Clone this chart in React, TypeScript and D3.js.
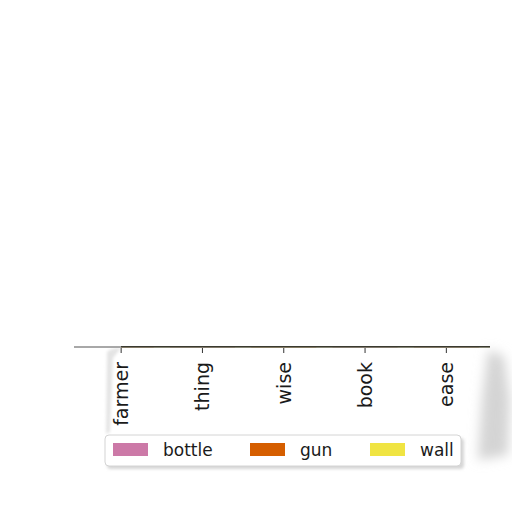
import React from 'react';
import * as d3 from 'd3';

const categories = ['farmer', 'thing', 'wise', 'book', 'ease'];
const seriesNames = ['bottle', 'gun', 'wall'];
const seriesColors = ['#cc79a7', '#d55e00', '#f0e442'];
const bottleValues = [2, 3, 1, 4, 2];
const gunValues = [3, 1, 2, 2, 3];
const wallValues = [1, 2, 3, 1, 2];

const W = 512;
const H = 512;
const plot = { left: 80.5, right: 487, top: 346, bottom: 348 };

const App: React.FC = () => {
  const rows = categories.map((c, i) => ({
    cat: c,
    bottle: bottleValues[i],
    gun: gunValues[i],
    wall: wallValues[i],
  }));
  const stacked = d3.stack<any>().keys(seriesNames)(rows);
  const maxY = d3.max(stacked[stacked.length - 1], d => d[1]) || 1;

  const x = d3.scaleBand<string>().domain(categories).range([plot.left, plot.right]).padding(0);
  const y = d3.scaleLinear().domain([0, maxY]).range([plot.bottom, plot.top]);
  const font = 'DejaVu Sans, sans-serif';

  const legendItems = [
    { x: 113, tx: 163 },
    { x: 250, tx: 300 },
    { x: 370, tx: 420 },
  ];

  return (
    <svg width={W} height={H} style={{ position: 'absolute', left: 0, top: 0 }}>
      <defs>
        <filter id="blur" x="-50%" y="-50%" width="200%" height="200%">
          <feGaussianBlur stdDeviation="6" />
        </filter>
        <filter id="blurSmall" x="-50%" y="-50%" width="200%" height="200%">
          <feGaussianBlur stdDeviation="1.5" />
        </filter>
      </defs>
      <rect width={W} height={H} fill="#fff" />

      {/* paper shadows */}
      <path d="M488,350 L504,356 L510,400 L508,455 L478,460 L482,400 Z" fill="#d4d4d4" filter="url(#blur)" />
      <path d="M107,352 Q111,348 121,348 L113,358 L110,432 L106,434 Z" fill="#e4e4e4" filter="url(#blurSmall)" />

      {/* bars (compressed to a sliver) */}
      {stacked.map((s, si) =>
        s.map((d, i) => (
          <rect
            key={`${si}-${i}`}
            x={(x(categories[i]) || 0) + x.bandwidth() * 0.1}
            width={x.bandwidth() * 0.8}
            y={y(d[1])}
            height={y(d[0]) - y(d[1])}
            fill={seriesColors[si]}
            opacity={0.5}
          />
        ))
      )}

      {/* spines */}
      <line x1={74} x2={121} y1={347} y2={347} stroke="#a8a8a8" strokeWidth={2.2} />
      <line x1={121} x2={plot.right + 3} y1={plot.top + 0.5} y2={plot.top + 0.5} stroke="#3a3a30" strokeWidth={1} />
      <line x1={121} x2={plot.right + 3} y1={plot.bottom - 0.5} y2={plot.bottom - 0.5} stroke="#6a6a55" strokeWidth={1} opacity={0.8} />

      {/* x ticks */}
      {categories.map(c => {
        const cx = (x(c) || 0) + x.bandwidth() / 2;
        return (
          <g key={c}>
            <line x1={cx} x2={cx} y1={plot.bottom} y2={plot.bottom + 5} stroke="#333" strokeWidth={1} />
            <text
              transform={`translate(${cx + 7},${plot.bottom + 14}) rotate(-90)`}
              textAnchor="end"
              fontFamily={font}
              fontSize={19}
              fill="#1a1a1a"
            >
              {c}
            </text>
          </g>
        );
      })}

      {/* legend */}
      <rect x={107} y={438} width={357} height={31} rx={4} fill="#d6d6d6" filter="url(#blurSmall)" />
      <rect x={105} y={435} width={356} height={31} rx={4} fill="#fff" stroke="#d4d4d4" strokeWidth={1} />
      {seriesNames.map((n, i) => (
        <g key={n}>
          <rect x={legendItems[i].x} y={443} width={35} height={13} fill={seriesColors[i]} />
          <text x={legendItems[i].tx} y={456} fontFamily={font} fontSize={17} fill="#1a1a1a">
            {n}
          </text>
        </g>
      ))}
    </svg>
  );
};

export default App;
